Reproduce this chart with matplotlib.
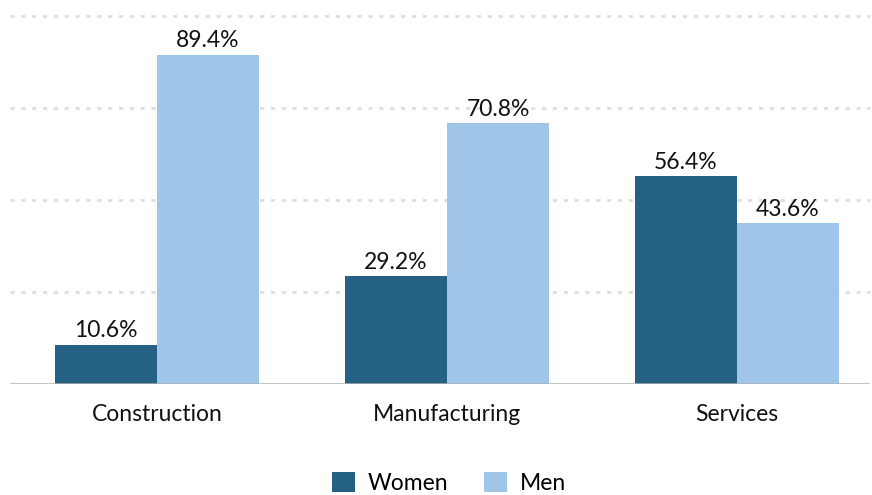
import matplotlib.pyplot as plt
import numpy as np

categories = ["Construction", "Manufacturing", "Services"]
women = [10.6, 29.2, 56.4]
men = [89.4, 70.8, 43.6]
series_labels = ["Women", "Men"]

plt.rcParams["font.family"] = ["Lato", "DejaVu Sans"]

W, H = 872, 495
fig = plt.figure(figsize=(W / 100, H / 100), dpi=100)
ax = fig.add_axes([10 / W, 1 - 383.5 / H, 860 / W, (383.5 - 14) / H])

x = np.arange(len(categories))
width = 0.352
c_women = "#246184"
c_men = "#9fc5e8"

for y in [25, 50, 75, 100]:
    ax.axhline(y, color="#e0e0e0", lw=2.2, linestyle=(0, (1.35, 2.2)), zorder=0,
               clip_on=False)

b1 = ax.bar(x - width / 2, women, width, color=c_women, label=series_labels[0], zorder=2)
b2 = ax.bar(x + width / 2, men, width, color=c_men, label=series_labels[1], zorder=2)

for bars, vals in [(b1, women), (b2, men)]:
    for bar, v in zip(bars, vals):
        ax.text(bar.get_x() + bar.get_width() / 2, v + 1.0, f"{v:.1f}%",
                ha="center", va="bottom", fontsize=16.5, color="#111111")

ax.axhline(0, color="#b0b0b0", lw=1.8, zorder=3)

ax.set_xlim(-0.507, 2.459)
ax.set_ylim(0, 100.6)
ax.set_yticks([])
ax.set_xticks(x)
ax.set_xticklabels(categories, fontsize=16.5, color="#111111")
ax.tick_params(axis="x", length=0, pad=15)
for s in ax.spines.values():
    s.set_visible(False)

fig.legend(handles=[b1, b2], labels=series_labels, loc="center",
           bbox_to_anchor=(449 / W, 1 - 483 / H), ncol=2, frameon=False,
           fontsize=16.5, handlelength=1.0, handleheight=1.0, columnspacing=1.55,
           handletextpad=0.55)

fig.savefig("out.png", dpi=100)
